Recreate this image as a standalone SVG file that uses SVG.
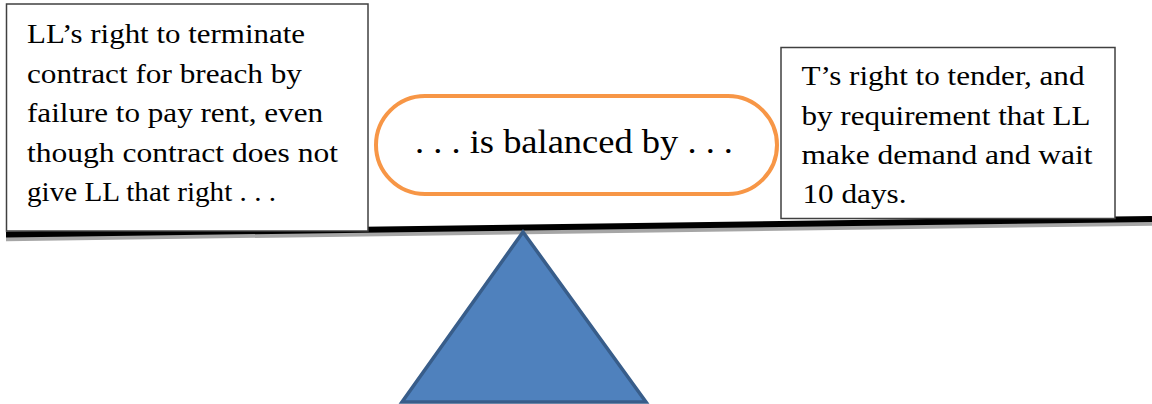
<svg xmlns="http://www.w3.org/2000/svg" width="1152" height="404" viewBox="0 0 1152 404">
<style>
.box{fill:#fff;stroke:#404040;stroke-width:1.5}
.t{font-family:"Liberation Serif","Times New Roman",serif;font-size:27px;fill:#000}
.c{font-family:"Liberation Serif","Times New Roman",serif;font-size:33px;fill:#000}
</style>
<g id="connectors">
<line x1="6" y1="239" x2="1152" y2="223.5" stroke="#a6a6a6" stroke-width="4.5"/>
<line x1="6" y1="234.5" x2="1152" y2="219" stroke="#000" stroke-width="6"/>
</g>
<g id="fulcrum">
<polygon points="523,232 402,402 646,402" fill="#4F81BD" stroke="#385D8A" stroke-width="3.5" stroke-linejoin="miter"/>
</g>
<g id="left">
<rect class="box" x="6.5" y="4" width="361.5" height="227"/>
<text class="t" x="27" y="43" textLength="278" lengthAdjust="spacingAndGlyphs">LL’s right to terminate</text>
<text class="t" x="27" y="82.5" textLength="275" lengthAdjust="spacingAndGlyphs">contract for breach by</text>
<text class="t" x="27" y="122" textLength="296" lengthAdjust="spacingAndGlyphs">failure to pay rent, even</text>
<text class="t" x="27" y="161.5" textLength="311" lengthAdjust="spacingAndGlyphs">though contract does not</text>
<text class="t" x="27" y="201" textLength="249" lengthAdjust="spacingAndGlyphs">give LL that right . . .</text>
</g>
<g id="middle">
<rect x="376" y="96" width="401" height="98" rx="49" ry="49" fill="#fff" stroke="#F79646" stroke-width="4"/>
<text class="c" x="415" y="153" textLength="318" lengthAdjust="spacingAndGlyphs">. . . is balanced by . . .</text>
</g>
<g id="right">
<rect class="box" x="781" y="47.5" width="334" height="171"/>
<text class="t" x="801.5" y="85" textLength="283" lengthAdjust="spacingAndGlyphs">T’s right to tender, and</text>
<text class="t" x="801.5" y="124.5" textLength="289" lengthAdjust="spacingAndGlyphs">by requirement that LL</text>
<text class="t" x="801.5" y="164" textLength="291" lengthAdjust="spacingAndGlyphs">make demand and wait</text>
<text class="t" x="802.5" y="203" textLength="104" lengthAdjust="spacingAndGlyphs">10 days.</text>
</g>
</svg>
